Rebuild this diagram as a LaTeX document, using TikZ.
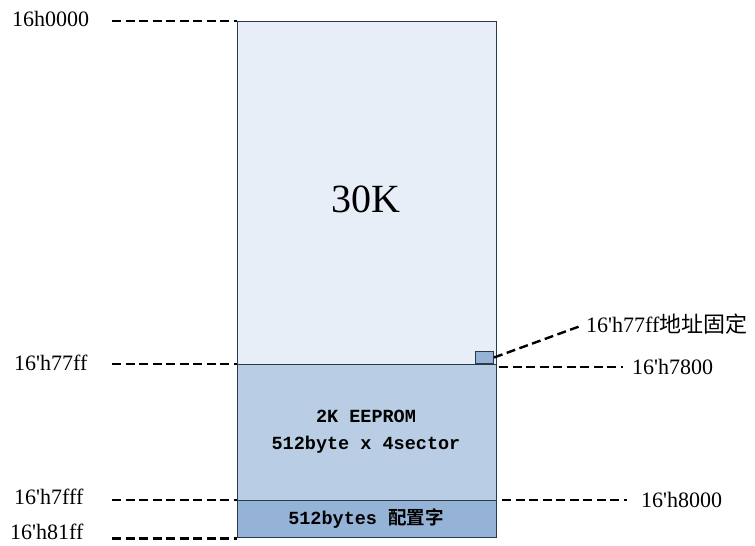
\documentclass[tikz,border=0pt]{standalone}
\usepackage{fontspec}
\setmainfont{Liberation Serif}
\newfontfamily\cjk{Noto Sans CJK SC}
\newfontfamily\cjkb{Noto Sans CJK SC Bold}
\newfontfamily\monob{Liberation Mono Bold}
\definecolor{memlight}{HTML}{E8EEF8}
\definecolor{memmid}{HTML}{B9CDE5}
\definecolor{memdark}{HTML}{95B3D7}
\definecolor{memedge}{HTML}{2B3A4A}
\begin{document}
\begin{tikzpicture}[x=1pt,y=-1pt,
  every node/.style={font=\fontsize{22}{26}\selectfont,inner sep=0pt},
  region/.style={draw=memedge,line width=1.3pt,anchor=north west,minimum width=259pt},
  addr/.style={dash pattern=on 9pt off 4.5pt,line width=2.9pt}]
\useasboundingbox (0,0) rectangle (755,546);
% memory regions
\node[region,fill=memlight,minimum height=343pt] (r30) at (237,21) {};
\node[region,fill=memmid,minimum height=136pt] (reep) at (237,364) {};
\node[region,fill=memdark,minimum height=37pt] (rcfg) at (237,500) {};
\node[draw=memedge,line width=1pt,fill=memdark,anchor=south east,minimum width=18pt,minimum height=12pt] (fix) at (494,364) {};
% region texts
\node[font=\fontsize{40}{44}\selectfont] (t30) at (366,199) {30K};
\node[font=\monob\fontsize{18.5}{27}\selectfont,align=center] (teep) at (366,432) {2K EEPROM\\512byte x 4sector};
\node[font=\monob\fontsize{18.5}{22}\selectfont] (tcfg) at (366,518) {512bytes {\cjkb 配置字}};
% address labels, left
\node[anchor=west] (a0) at (12,19) {16h0000};
\node[anchor=west] (a77ff) at (14,363) {16\textquotesingle h77ff};
\node[anchor=west] (a7fff) at (14,497) {16\textquotesingle h7fff};
\node[anchor=west] (a81ff) at (10,532) {16\textquotesingle h81ff};
\draw[addr] ([xshift=-125pt]r30.north west) -- (r30.north west);
\draw[addr] ([xshift=-125pt]reep.north west) -- (reep.north west);
\draw[addr] ([xshift=-125pt]rcfg.north west) -- (rcfg.north west);
\draw[addr] ([xshift=-125pt]rcfg.south west) -- (rcfg.south west);
% address labels, right
\node[anchor=west] (a7800) at (632,367) {16\textquotesingle h7800};
\node[anchor=west] (a8000) at (641,500) {16\textquotesingle h8000};
\node[anchor=west] (afix) at (586,324) {16\textquotesingle h77ff{\cjk 地址固定}};
\draw[addr,shorten <=2pt,shorten >=9pt] ([yshift=-3pt]reep.north east) -- (a7800.west);
\draw[addr,shorten <=5pt,shorten >=14pt] (rcfg.north east) -- (a8000.west);
\draw[addr,line width=2.4pt,shorten >=5pt] (fix.east) -- (afix.west);
\end{tikzpicture}
\end{document}
